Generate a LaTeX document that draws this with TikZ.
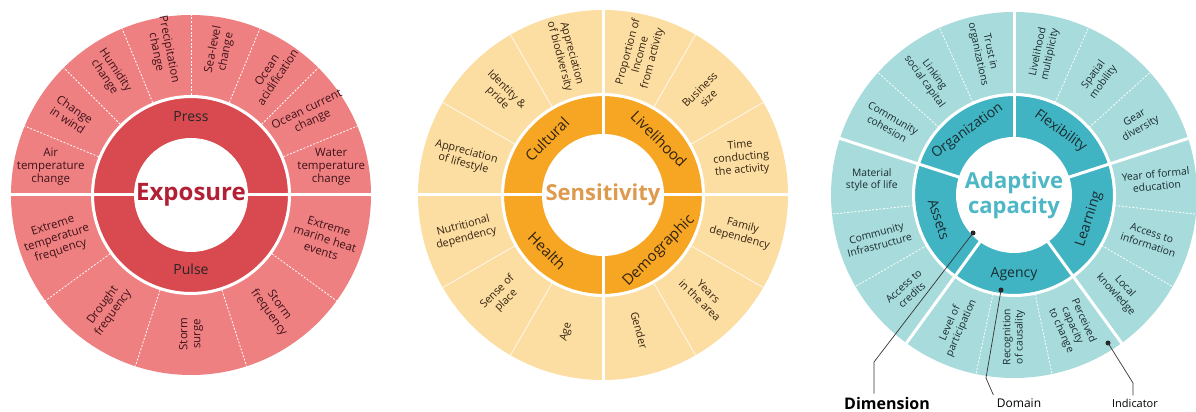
\documentclass[tikz,border=0pt]{standalone}
\usepackage{fontspec}
\setmainfont{Open Sans}
\usetikzlibrary{calc}

\definecolor{exOut}{HTML}{EF8081}
\definecolor{exRing}{HTML}{D84A4F}
\definecolor{exTitle}{HTML}{B32035}
\definecolor{exText}{HTML}{3E1219}
\definecolor{seOut}{HTML}{FCDDA2}
\definecolor{seRing}{HTML}{F6A623}
\definecolor{seTitle}{HTML}{DE9A4E}
\definecolor{seText}{HTML}{33230F}
\definecolor{adOut}{HTML}{A8DBDB}
\definecolor{adRing}{HTML}{41B4C3}
\definecolor{adTitle}{HTML}{4DB7C5}
\definecolor{adText}{HTML}{192B30}

% wheel: #1 centre, #2 outer radius, #3 ring radius, #4 hole radius, #5 outer colour, #6 ring colour
\newcommand\drawwheel[6]{%
  \fill[#5] (#1) circle[radius=#2];
  \fill[#6] (#1) circle[radius=#3];
  \draw[white, line width=3pt] (#1) circle[radius=#3+1.5];
  \fill[white] (#1) circle[radius=#4];
}

\begin{document}
\begin{tikzpicture}[x=1pt,y=1pt,
  itemtxt/.style={align=center, inner sep=0pt, font=\fontsize{10.3}{12.3}\selectfont},
  exitem/.style={itemtxt, font=\fontsize{11.5}{13}\selectfont},
  seitem/.style={itemtxt, font=\fontsize{10.8}{12.5}\selectfont},
  dlabel/.style={inner sep=0pt, font=\fontsize{14}{16}\selectfont},
  wheeltitle/.style={align=center, inner sep=0pt, font=\bfseries\fontsize{22}{25}\selectfont},
  mainsep/.style={white, line width=3pt},
  dashsep/.style={white, line width=0.8pt, dash pattern=on 2pt off 1.6pt},
  thinsep/.style={white, line width=0.9pt, opacity=0.75},
  leader/.style={draw=black!80, line width=0.7pt},
  leaddot/.style={circle, fill=black!85, inner sep=0pt, minimum size=5pt},
]
\useasboundingbox (0,0) rectangle (1196,412);
\clip (0,0) rectangle (1196,412);

% ---------------- Exposure ----------------
\coordinate (E) at (191,217);
\drawwheel{E}{180}{97}{57}{exOut}{exRing}
\foreach \a in {22.5,45,67.5,90,112.5,135,157.5,216,252,288,324}
  \draw[dashsep] ($(E)+(\a:100)$) -- ($(E)+(\a:180)$);
\foreach \a in {0,180}
  \draw[mainsep] ($(E)+(\a:56)$) -- ($(E)+(\a:181)$);

\begin{scope}[every node/.append style={text=exText}]
\node[exitem, rotate=0]      (ex1)  at ($(E)+(168.75:143)$) {Air\\temperature\\change};
\node[exitem, rotate=-33.75] (ex2)  at ($(E)+(146.25:144)$) {Change\\in wind};
\node[exitem, rotate=-56.25] (ex3)  at ($(E)+(123.75:146)$) {Humidity\\change};
\node[exitem, rotate=-78.75] (ex4)  at ($(E)+(101.25:147)$) {Precipitation\\change};
\node[exitem, rotate=78.75]  (ex5)  at ($(E)+(78.75:147)$)  {Sea-level\\change};
\node[exitem, rotate=56.25]  (ex6)  at ($(E)+(56.25:146)$)  {Ocean\\acidification};
\node[exitem, rotate=26]     (ex7)  at ($(E)+(33.75:143)$)  {Ocean current\\change};
\node[exitem, rotate=0]      (ex8)  at ($(E)+(11.25:143)$)  {Water\\temperature\\change};
\node[exitem, rotate=18]     (ex9)  at ($(E)+(198:141)$)    {Extreme\\temperature\\frequency};
\node[exitem, rotate=54]     (ex10) at ($(E)+(234:141)$)    {Drought\\frequency};
\node[exitem, rotate=90]     (ex11) at ($(E)+(270:139)$)    {Storm\\surge};
\node[exitem, rotate=-54]    (ex12) at ($(E)+(306:141)$)    {Storm\\frequency};
\node[exitem, rotate=-18]    (ex13) at ($(E)+(342:141)$)    {Extreme\\marine heat\\events};
\end{scope}
\node[dlabel, text=black!85] (exPress) at ($(E)+(90:78)$) {Press};
\node[dlabel, text=black!85] (exPulse) at ($(E)+(270:74)$) {Pulse};
\node[wheeltitle, text=exTitle, font=\bfseries\fontsize{24}{26}\selectfont] (exT) at (E) {Exposure};

% ---------------- Sensitivity ----------------
\coordinate (S) at (603,217);
\drawwheel{S}{185}{99}{61}{seOut}{seRing}
\foreach \a in {30,60,120,150,210,240,300,330}
  \draw[thinsep] ($(S)+(\a:101)$) -- ($(S)+(\a:185)$);
\foreach \a in {0,90,180,270}
  \draw[mainsep] ($(S)+(\a:60)$) -- ($(S)+(\a:186)$);

\begin{scope}[every node/.append style={text=seText}]
\node[seitem, rotate=-15] (se1)  at ($(S)+(165:143)$) {Appreciation\\of lifestyle};
\node[seitem, rotate=-45] (se2)  at ($(S)+(135:143)$) {Identity \&\\pride};
\node[seitem, rotate=-75] (se3)  at ($(S)+(105:145)$) {Appreciation\\of biodiversity};
\node[seitem, rotate=75]  (se4)  at ($(S)+(75:145)$)  {Proportion of\\Income\\from activity};
\node[seitem, rotate=45]  (se5)  at ($(S)+(45:143)$)  {Business\\size};
\node[seitem, rotate=5]   (se6)  at ($(S)+(15:143)$)  {Time\\conducting\\the activity};
\node[seitem, rotate=-15] (se7)  at ($(S)+(345:143)$) {Family\\dependency};
\node[seitem, rotate=-45] (se8)  at ($(S)+(315:143)$) {Years\\in the area};
\node[seitem, rotate=-75] (se9)  at ($(S)+(285:140)$) {Gender};
\node[seitem, rotate=75]  (se10) at ($(S)+(255:142)$) {Age};
\node[seitem, rotate=45]  (se11) at ($(S)+(225:143)$) {Sense of\\place};
\node[seitem, rotate=15]  (se12) at ($(S)+(195:143)$) {Nutritional\\dependency};
\node[dlabel, font=\fontsize{15}{17}\selectfont, rotate=45]  (seCul) at ($(S)+(135:79)$) {Cultural};
\node[dlabel, font=\fontsize{15}{17}\selectfont, rotate=-45] (seLiv) at ($(S)+(45:79)$)  {Livelihood};
\node[dlabel, font=\fontsize{15}{17}\selectfont, rotate=-45] (seHea) at ($(S)+(225:79)$) {Health};
\node[dlabel, font=\fontsize{15}{17}\selectfont, rotate=45]  (seDem) at ($(S)+(315:79)$) {Demographic};
\end{scope}
\node[wheeltitle, text=seTitle] (seT) at (S) {Sensitivity};

% ---------------- Adaptive capacity ----------------
\coordinate (A) at (1014,217);
\drawwheel{A}{183}{99}{58}{adOut}{adRing}
\foreach \a in {114,138,42,66,-30,-6,258,282,186,210}
  \draw[dashsep] ($(A)+(\a:101)$) -- ($(A)+(\a:183)$);
\foreach \a in {90,18,-54,234,162}
  \draw[mainsep] ($(A)+(\a:57)$) -- ($(A)+(\a:184)$);

\begin{scope}[every node/.append style={text=adText}]
\node[itemtxt, rotate=-78] (ad1)  at ($(A)+(102:145)$) {Trust in\\organizations};
\node[itemtxt, rotate=-54] (ad2)  at ($(A)+(126:144)$) {Linking\\social capital};
\node[itemtxt, rotate=-30] (ad3)  at ($(A)+(150:143)$) {Community\\cohesion};
\node[itemtxt, rotate=78]  (ad4)  at ($(A)+(78:145)$)  {Livelihood\\multiplicity};
\node[itemtxt, rotate=54]  (ad5)  at ($(A)+(54:144)$)  {Spatial\\mobility};
\node[itemtxt, rotate=30]  (ad6)  at ($(A)+(30:143)$)  {Gear\\diversity};
\node[itemtxt, rotate=6]   (ad7)  at ($(A)+(6:143)$)   {Year of formal\\education};
\node[itemtxt, rotate=-18] (ad8)  at ($(A)+(-18:143)$) {Access to\\information};
\node[itemtxt, rotate=-48] (ad9)  at ($(A)+(-42:143)$) {Local\\knowledge};
\node[itemtxt, rotate=-66] (ad10) at ($(A)+(294:143)$) {Perceived\\capacity\\to change};
\node[itemtxt, rotate=90]  (ad11) at ($(A)+(270:142)$) {Recognition\\of causality};
\node[itemtxt, rotate=66]  (ad12) at ($(A)+(246:143)$) {Level of\\participation};
\node[itemtxt, rotate=0]   (ad13) at ($(A)+(174:143)$) {Material\\style of life};
\node[itemtxt, rotate=15]  (ad14) at ($(A)+(198:143)$) {Community\\Infrastructure};
\node[itemtxt, rotate=42]  (ad15) at ($(A)+(222:143)$) {Access to\\credits};
\node[dlabel, rotate=36]  (adOrg) at ($(A)+(126:79)$) {Organization};
\node[dlabel, rotate=-36] (adFle) at ($(A)+(54:79)$)  {Flexibility};
\node[dlabel, rotate=72]  (adLea) at ($(A)+(-18:79)$) {Learning};
\node[dlabel, rotate=0]   (adAge) at ($(A)+(270:79)$) {Agency};
\node[dlabel, rotate=-72] (adAss) at ($(A)+(198:79)$) {Assets};
\end{scope}
\node[wheeltitle, text=adTitle] (adT) at (A) {Adaptive\\capacity};

% ---------------- key: dimension, domain, indicator ----------------
\node[font=\bfseries\fontsize{16}{18}\selectfont, anchor=south] (lDim) at (887,-1) {Dimension};
\node[font=\fontsize{12}{14}\selectfont, anchor=south] (lDom) at (1019,1) {Domain};
\node[font=\fontsize{11}{13}\selectfont, anchor=south] (lInd) at (1135,1) {Indicator};

\node[leaddot] (dDim) at (973,179) {};
\node[leaddot] (dDom) at (1001,122) {};
\node[leaddot] (dInd) at (1108,69) {};

\coordinate (bDim) at (874,50);
\coordinate (bDom) at (986,34);
\coordinate (bInd) at (1133,29);

\draw[leader] (dDim.center) -- (bDim) -- (bDim |- lDim.north);
\draw[leader] (dDom.center) -- (bDom) -- (lDom.north west);
\draw[leader] (dInd.center) -- (bInd) -- (bInd |- lInd.north);
\end{tikzpicture}
\end{document}
